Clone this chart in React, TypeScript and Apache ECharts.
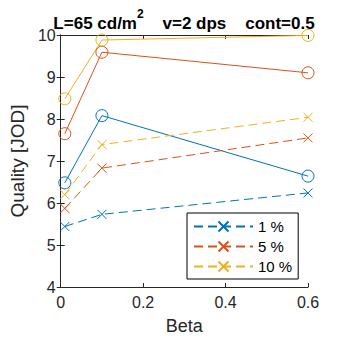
import React, { useEffect, useRef } from "react";
import * as echarts from "echarts";

const betas = [0.01, 0.1, 0.6];
const solid1 = [6.48, 8.08, 6.64];
const solid5 = [7.65, 9.59, 9.1];
const solid10 = [8.48, 9.88, 9.99];
const dash1 = [5.44, 5.73, 6.24];
const dash5 = [5.87, 6.83, 7.55];
const dash10 = [6.2, 7.39, 8.04];
const legendNames = ["1 %", "5 %", "10 %"];
const colors = ["#0072BD", "#D95319", "#EDB120"];

const FONT = "Liberation Sans, Arial, Helvetica, sans-serif";
const AX = "#262626";
const XSYM = "path://M0 0L1 1M1 0L0 1";

export default function App() {
  const ref = useRef<HTMLDivElement>(null);
  useEffect(() => {
    document.body.style.margin = "0";
    const chart = echarts.init(ref.current!, null, { renderer: "svg" });
    const pts = (ys: number[]) => betas.map((b, i) => [b, ys[i]]);
    const solidSets = [solid1, solid5, solid10];
    const dashSets = [dash1, dash5, dash10];
    const series: any[] = [];
    solidSets.forEach((ys, i) => {
      series.push({
        type: "line",
        name: "s" + i,
        data: pts(ys),
        symbol: "circle",
        symbolSize: 12,
        lineStyle: { color: colors[i], width: 1, type: "solid" },
        itemStyle: { color: "transparent", borderColor: colors[i], borderWidth: 1 },
        z: 2,
      });
    });
    dashSets.forEach((ys, i) => {
      series.push({
        type: "line",
        name: legendNames[i],
        data: pts(ys),
        symbol: XSYM,
        symbolSize: 9,
        lineStyle: { color: colors[i], width: 1, type: [9, 5] },
        itemStyle: { color: "transparent", borderColor: colors[i], borderWidth: 1 },
        z: 2,
      });
    });
    const axisCommon = {
      axisLine: { show: true, lineStyle: { color: AX, width: 1 } },
      axisTick: { show: true, inside: true, length: 4, lineStyle: { color: AX } },
      splitLine: { show: false },
    };
    chart.setOption({
      animation: false,
      textStyle: { fontFamily: FONT },
      title: {
        text: "{a|L=65 cd/m}{s|2}{a|    v=2 dps    cont=0.5}",
        left: 179,
        top: 3,
        textAlign: "center",
        textStyle: {
          fontSize: 17,
          fontWeight: "bold",
          rich: {
            a: { fontSize: 17, fontWeight: "bold", color: "#000", fontFamily: FONT, lineHeight: 24, verticalAlign: "bottom" },
            s: { fontSize: 12, fontWeight: "bold", color: "#000", fontFamily: FONT, verticalAlign: "top", lineHeight: 24 },
          },
        },
      },
      grid: { left: 50, right: 32, top: 35, bottom: 52, containLabel: false },
      legend: {
        data: legendNames,
        orient: "vertical",
        left: 187,
        top: 213,
        width: 112,
        padding: [6, 6, 5, 6],
        itemGap: 5,
        itemWidth: 59,
        itemHeight: 12.5,
        backgroundColor: "#fff",
        borderColor: "#000",
        borderWidth: 1,
        borderRadius: 0,
        textStyle: { fontSize: 15, color: "#000", fontFamily: FONT },
      },
      xAxis: [
        {
          type: "value",
          min: 0,
          max: 0.6,
          interval: 0.2,
          name: "Beta",
          nameLocation: "middle",
          nameGap: 30,
          nameTextStyle: { fontSize: 18, color: AX, fontFamily: FONT },
          axisLabel: { fontSize: 16, color: AX, margin: 7, fontFamily: FONT },
          ...axisCommon,
        },
        {
          type: "value",
          position: "top",
          min: 0,
          max: 0.6,
          interval: 0.2,
          axisLabel: { show: false },
          ...axisCommon,
        },
      ],
      yAxis: [
        {
          type: "value",
          min: 4,
          max: 10,
          interval: 1,
          name: "Quality [JOD]",
          nameLocation: "middle",
          nameGap: 26,
          nameTextStyle: { fontSize: 19, color: AX, fontFamily: FONT },
          axisLabel: { fontSize: 16, color: AX, margin: 5, fontFamily: FONT },
          ...axisCommon,
        },
        {
          type: "value",
          position: "right",
          min: 4,
          max: 10,
          interval: 1,
          axisLabel: { show: false },
          ...axisCommon,
        },
      ],
      series,
    });
    return () => chart.dispose();
  }, []);
  return <div ref={ref} style={{ width: 340, height: 340 }} />;
}
